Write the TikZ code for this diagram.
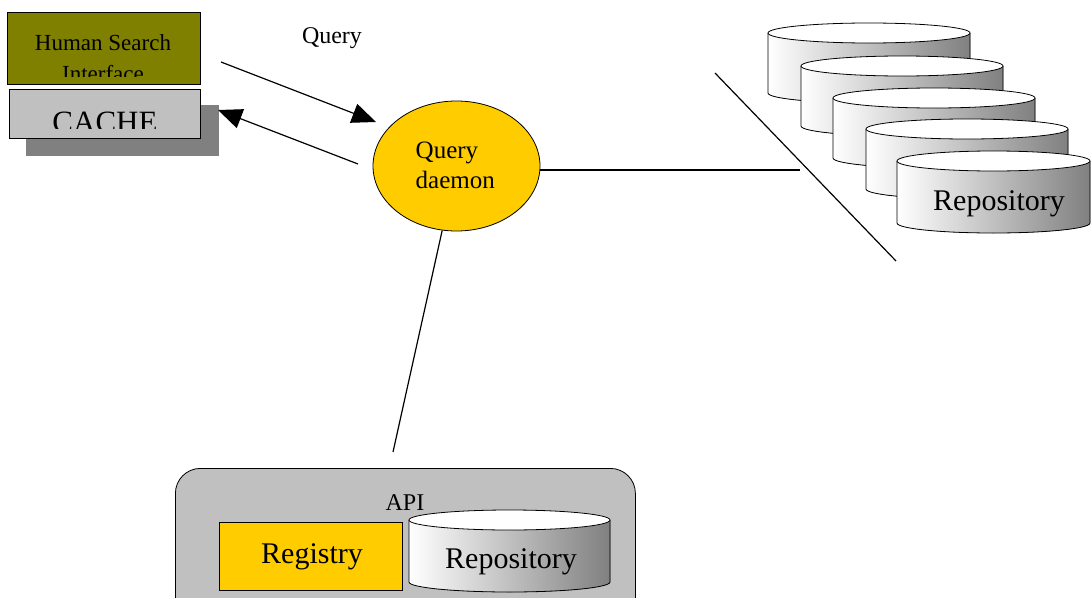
\documentclass[tikz,border=0pt]{standalone}
\usepackage{fontspec}
\setmainfont{Liberation Serif}
\usetikzlibrary{arrows.meta,shapes.geometric}
\definecolor{olivebox}{RGB}{128,128,0}
\definecolor{daemongold}{RGB}{255,204,0}
\definecolor{cachegrey}{RGB}{192,192,192}
\definecolor{shadowgrey}{RGB}{128,128,128}

% cylinder: left x, right x, top y, bottom y
\newcommand{\repocyl}[4]{%
  \pgfmathsetmacro{\cylx}{(#1+#2)/2}
  \pgfmathsetmacro{\cylr}{(#2-#1)/2}
  \fill[left color=white, right color=shadowgrey] (#1,#3+10) -- (#1,#4-10)
    arc[start angle=180, end angle=0, x radius=\cylr, y radius=10] -- (#2,#3+10) -- cycle;
  \draw (#1,#3+10) -- (#1,#4-10)
    arc[start angle=180, end angle=0, x radius=\cylr, y radius=10] -- (#2,#3+10);
  \draw[fill=white] (\cylx,#3+10) ellipse [x radius=\cylr, y radius=10];
}

\tikzset{
  box/.style={draw, line width=0.8pt, anchor=north west, inner sep=0pt},
  link/.style={line width=1.2pt},
  tip/.style={link, -{Triangle[length=24pt,width=20pt]}},
}

\begin{document}
\begin{tikzpicture}[x=1pt, y=-1pt, line width=0.8pt]
\useasboundingbox (0,0) rectangle (1092,597);

% client side
\node[box, fill=olivebox, minimum width=193pt, minimum height=72pt] (hsi) at (7,12) {};
\begin{scope}
\clip (7,12) rectangle (200,76);
\node[anchor=base, font=\fontsize{23}{28}\selectfont] (hsitext) at (103,50) {Human Search};
\node[anchor=base, font=\fontsize{23}{28}\selectfont] (hsitext2) at (103,81) {Interface};
\end{scope}
\fill[shadowgrey] (26,105) rectangle (219,156);
\node[box, fill=cachegrey, minimum width=191pt, minimum height=49pt] (cache) at (9,89) {};
\begin{scope}
\clip (9,89) rectangle (200,128);
\node[anchor=base, font=\fontsize{31}{36}\selectfont] (cachetext) at (105,132) {CACHE};
\end{scope}

\node[anchor=base, font=\fontsize{24}{28}\selectfont] (qlabel) at (332,43) {Query};

% daemon
\node[ellipse, draw, fill=daemongold, minimum width=167pt, minimum height=130pt,
  inner sep=0pt, align=left, font=\fontsize{25}{30}\selectfont] (qd) at (456.5,166) {};
\node[anchor=base west, align=left, font=\fontsize{25}{30}\selectfont] (qdtext) at (412,158) {Query};
\node[anchor=base west, align=left, font=\fontsize{25}{30}\selectfont] (qdtext2) at (412,188) {daemon};

\coordinate (q1) at (221,62);
\coordinate (q2) at (376,122);
\coordinate (r1) at (358,164);
\coordinate (r2) at (218,110);
\draw[tip] (q1) -- (q2);
\draw[tip] (r1) -- (r2);

% remote repositories
\coordinate (cut) at (800,170);
\coordinate (cutA) at (715,73);
\coordinate (cutB) at (896,261);
\draw[link] (qd.east |- cut) -- (cut);
\draw[link] (cutA) -- (cutB);

\foreach \xa/\ya in {768/23, 801/56, 833/88, 866/119}
  \repocyl{\xa}{\xa+202}{\ya}{\ya+80};
\repocyl{897}{1090}{151}{233}
\node[anchor=base, font=\fontsize{30}{34}\selectfont] (repo) at (999,210) {Repository};

% local API
\coordinate (apitop) at (393,452);
\draw[link] (qd) -- (apitop);
\node[box, fill=cachegrey, rounded corners=25pt, minimum width=460pt, minimum height=170pt] (api) at (175,468) {};
\node[anchor=base, font=\fontsize{24}{28}\selectfont] (apitext) at (405,510) {API};
\node[box, fill=daemongold, minimum width=183pt, minimum height=68pt] (reg) at (219,522) {};
\node[anchor=base, font=\fontsize{30}{34}\selectfont] (regtext) at (312,563) {Registry};
\repocyl{409}{610}{510}{592}
\node[anchor=base, font=\fontsize{30}{34}\selectfont] (apirepo) at (511,568) {Repository};
\end{tikzpicture}
\end{document}
